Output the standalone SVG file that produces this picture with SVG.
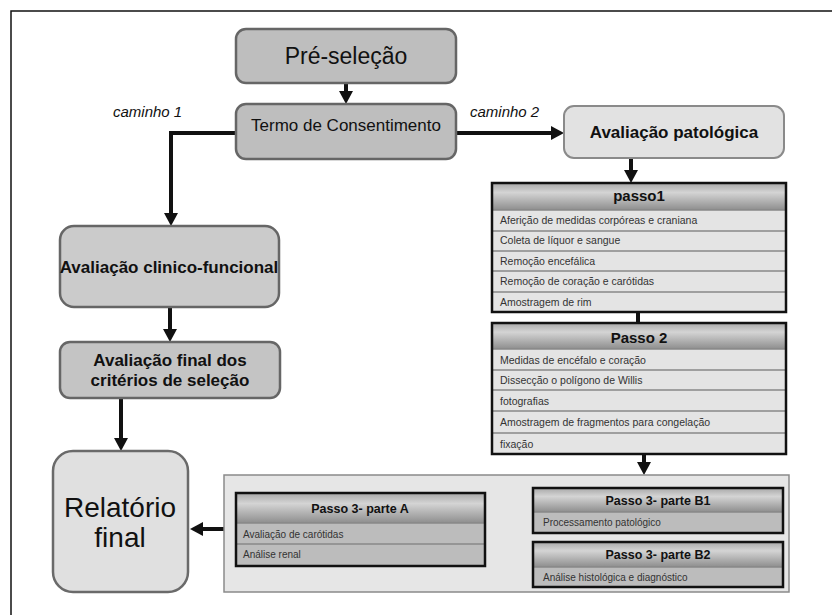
<svg xmlns="http://www.w3.org/2000/svg" width="832" height="615" viewBox="0 0 832 615">
<defs>
<marker id="ah" markerUnits="userSpaceOnUse" markerWidth="16" markerHeight="16" refX="3" refY="7" orient="auto">
<path d="M0,0 L13,7 L0,14 z" fill="#111"/>
</marker>
<linearGradient id="hdr" x1="0" y1="0" x2="0" y2="1">
<stop offset="0" stop-color="#a8a8a8"/>
<stop offset="0.35" stop-color="#d4d4d4"/>
<stop offset="1" stop-color="#8e8e8e"/>
</linearGradient>
</defs>
<style>
text{font-family:"Liberation Sans",Arial,sans-serif;fill:#111}
.rb{stroke:#666;stroke-width:2.5}
.dark{fill:#bebebe}
.light{fill:#e2e2e2;stroke:#8a8a8a;stroke-width:2}
.lbl{font-weight:bold;font-size:17px;text-anchor:middle}
.cam{font-style:italic;font-size:15px}
.tbl{stroke:#111;stroke-width:2.5;fill:none}
.row{fill:#e4e4e4}
.row3{fill:#bcbcbc}
.sep{stroke:#888;stroke-width:1.5}
.hd{fill:url(#hdr)}
.ht{font-weight:bold;font-size:15px;text-anchor:middle}
.ht3{font-weight:bold;font-size:12.5px;text-anchor:middle}
.rt{font-size:10.5px;fill:#333}
.rt3{font-size:10px;fill:#333}
.con{stroke:#111;stroke-width:4;fill:none}
</style>

<g id="frame">
<path d="M11,615 L11,11 L832,11" fill="none" stroke="#111" stroke-width="1.5"/>
</g>

<g id="connectors">
<line class="con" x1="346" y1="83" x2="346" y2="94" marker-end="url(#ah)"/>
<polyline class="con" points="236,133 171,133 171,216" marker-end="url(#ah)"/>
<line class="con" x1="456" y1="133" x2="554" y2="133" marker-end="url(#ah)"/>
<line class="con" x1="631" y1="158" x2="631" y2="173" marker-end="url(#ah)"/>
<line class="con" x1="638" y1="312" x2="638" y2="323"/>
<line class="con" x1="644" y1="454" x2="644" y2="465" marker-end="url(#ah)"/>
<line class="con" x1="170" y1="307" x2="170" y2="332" marker-end="url(#ah)"/>
<line class="con" x1="121" y1="398" x2="121" y2="441" marker-end="url(#ah)"/>
<line class="con" x1="224" y1="529" x2="200" y2="529" marker-end="url(#ah)"/>
<text class="cam" x="113" y="117">caminho 1</text>
<text class="cam" x="470" y="117">caminho 2</text>
</g>

<g id="pre-selecao">
<rect class="rb dark" x="236" y="29" width="220" height="54" rx="10"/>
<text x="346" y="64" font-size="23" text-anchor="middle">Pré-seleção</text>
</g>

<g id="termo">
<rect class="rb dark" x="236" y="104" width="220" height="55" rx="10"/>
<text x="346" y="131" font-size="17" text-anchor="middle">Termo de Consentimento</text>
</g>

<g id="avaliacao-patologica">
<rect class="light" x="564" y="106" width="220" height="52" rx="10"/>
<text class="lbl" x="674" y="138">Avaliação patológica</text>
</g>

<g id="avaliacao-clinico">
<rect class="rb" fill="#cbcbcb" x="60" y="226" width="219" height="81" rx="14"/>
<text class="lbl" x="169" y="273">Avaliação clinico-funcional</text>
</g>

<g id="avaliacao-final">
<rect class="rb" fill="#c4c4c4" x="60" y="342" width="220" height="56" rx="10"/>
<text class="lbl" x="170" y="366">Avaliação final dos</text>
<text class="lbl" x="170" y="386">critérios de seleção</text>
</g>

<g id="relatorio">
<rect x="53" y="451" width="135" height="141" rx="20" fill="#e0e0e0" stroke="#6a6a6a" stroke-width="2.5"/>
<text x="120" y="517" font-size="28" text-anchor="middle">Relatório</text>
<text x="120" y="547" font-size="28" text-anchor="middle">final</text>
</g>

<g id="passo1">
<rect class="hd" x="492" y="183" width="294" height="27"/>
<rect class="row" x="492" y="210" width="294" height="102"/>
<line class="sep" x1="492" y1="210" x2="786" y2="210"/>
<line class="sep" x1="492" y1="231" x2="786" y2="231"/>
<line class="sep" x1="492" y1="251" x2="786" y2="251"/>
<line class="sep" x1="492" y1="271" x2="786" y2="271"/>
<line class="sep" x1="492" y1="292" x2="786" y2="292"/>
<rect class="tbl" x="492" y="183" width="294" height="129"/>
<text class="ht" x="639" y="201">passo1</text>
<text class="rt" x="500" y="224">Aferição de medidas corpóreas e craniana</text>
<text class="rt" x="500" y="244">Coleta de líquor e sangue</text>
<text class="rt" x="500" y="265">Remoção encefálica</text>
<text class="rt" x="500" y="285">Remoção de coração e carótidas</text>
<text class="rt" x="500" y="306">Amostragem de rim</text>
</g>

<g id="passo2">
<rect class="hd" x="492" y="323" width="294" height="26"/>
<rect class="row" x="492" y="349" width="294" height="105"/>
<line class="sep" x1="492" y1="349" x2="786" y2="349"/>
<line class="sep" x1="492" y1="370" x2="786" y2="370"/>
<line class="sep" x1="492" y1="390" x2="786" y2="390"/>
<line class="sep" x1="492" y1="411" x2="786" y2="411"/>
<line class="sep" x1="492" y1="433" x2="786" y2="433"/>
<rect class="tbl" x="492" y="323" width="294" height="131"/>
<text class="ht" x="639" y="343">Passo 2</text>
<text class="rt" x="500" y="364">Medidas de encéfalo e coração</text>
<text class="rt" x="500" y="384">Dissecção o polígono de Willis</text>
<text class="rt" x="500" y="405">fotografias</text>
<text class="rt" x="500" y="426">Amostragem de fragmentos para congelação</text>
<text class="rt" x="500" y="448">fixação</text>
</g>

<g id="passo3">
<rect x="224" y="475" width="565" height="117" fill="#e6e6e6" stroke="#8a8a8a" stroke-width="1.5"/>
</g>

<g id="passo3-parte-a">
<rect class="hd" x="236" y="493" width="249" height="30"/>
<rect class="row3" x="236" y="523" width="249" height="43"/>
<line class="sep" x1="236" y1="523" x2="485" y2="523"/>
<line class="sep" x1="236" y1="544" x2="485" y2="544"/>
<rect class="tbl" x="236" y="493" width="249" height="73"/>
<text class="ht3" x="360" y="513">Passo 3- parte A</text>
<text class="rt3" x="243" y="538">Avaliação de carótidas</text>
<text class="rt3" x="243" y="558">Análise renal</text>
</g>

<g id="passo3-parte-b1">
<rect class="hd" x="533" y="488" width="250" height="24"/>
<rect class="row3" x="533" y="512" width="250" height="21"/>
<line class="sep" x1="533" y1="512" x2="783" y2="512"/>
<rect class="tbl" x="533" y="488" width="250" height="45"/>
<text class="ht3" x="658" y="505">Passo 3- parte B1</text>
<text class="rt3" x="543" y="526">Processamento patológico</text>
</g>

<g id="passo3-parte-b2">
<rect class="hd" x="533" y="542" width="250" height="25"/>
<rect class="row3" x="533" y="567" width="250" height="20"/>
<line class="sep" x1="533" y1="567" x2="783" y2="567"/>
<rect class="tbl" x="533" y="542" width="250" height="45"/>
<text class="ht3" x="658" y="559">Passo 3- parte B2</text>
<text class="rt3" x="543" y="581">Análise histológica e diagnóstico</text>
</g>
</svg>
